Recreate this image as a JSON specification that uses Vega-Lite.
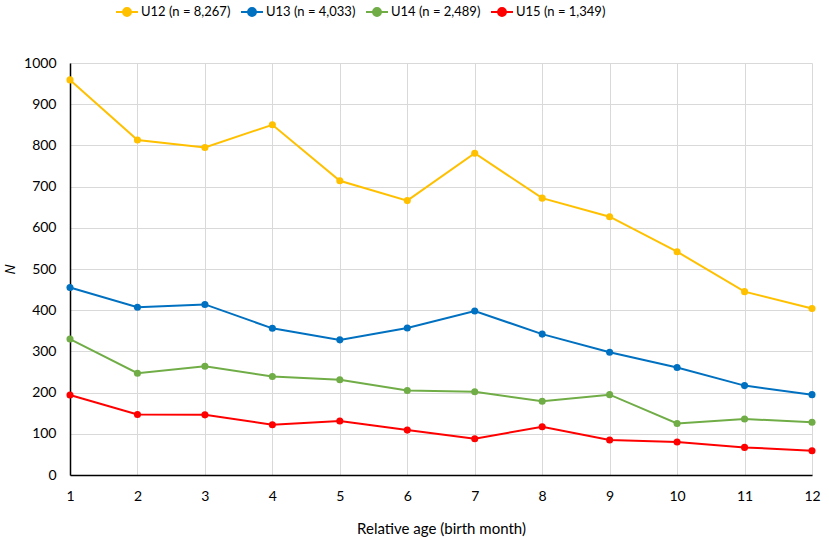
{
  "$schema": "https://vega.github.io/schema/vega-lite/v6.json",
  "width": 742,
  "height": 412,
  "autosize": "none",
  "padding": {"left": 70, "top": 63, "right": 17, "bottom": 65},
  "background": "white",
  "config": {
    "font": "Lato",
    "view": {"stroke": null},
    "axis": {"gridColor": "#D9D9D9", "gridWidth": 1, "domainColor": "#000000", "domainWidth": 1.5, "ticks": false, "labelColor": "#000000", "labelFontSize": 14, "titleFontSize": 15, "titleFontWeight": "normal", "titleColor": "#000000"}
  },
  "data": {
    "values": [
      {"month": 1, "group": "U12 (n = 8,267)", "n": 959},
      {"month": 2, "group": "U12 (n = 8,267)", "n": 813},
      {"month": 3, "group": "U12 (n = 8,267)", "n": 795},
      {"month": 4, "group": "U12 (n = 8,267)", "n": 850},
      {"month": 5, "group": "U12 (n = 8,267)", "n": 714},
      {"month": 6, "group": "U12 (n = 8,267)", "n": 666},
      {"month": 7, "group": "U12 (n = 8,267)", "n": 781},
      {"month": 8, "group": "U12 (n = 8,267)", "n": 672},
      {"month": 9, "group": "U12 (n = 8,267)", "n": 627},
      {"month": 10, "group": "U12 (n = 8,267)", "n": 542},
      {"month": 11, "group": "U12 (n = 8,267)", "n": 445},
      {"month": 12, "group": "U12 (n = 8,267)", "n": 404},
      {"month": 1, "group": "U13 (n = 4,033)", "n": 455},
      {"month": 2, "group": "U13 (n = 4,033)", "n": 407},
      {"month": 3, "group": "U13 (n = 4,033)", "n": 414},
      {"month": 4, "group": "U13 (n = 4,033)", "n": 356},
      {"month": 5, "group": "U13 (n = 4,033)", "n": 328},
      {"month": 6, "group": "U13 (n = 4,033)", "n": 357},
      {"month": 7, "group": "U13 (n = 4,033)", "n": 398},
      {"month": 8, "group": "U13 (n = 4,033)", "n": 342},
      {"month": 9, "group": "U13 (n = 4,033)", "n": 298},
      {"month": 10, "group": "U13 (n = 4,033)", "n": 261},
      {"month": 11, "group": "U13 (n = 4,033)", "n": 217},
      {"month": 12, "group": "U13 (n = 4,033)", "n": 195},
      {"month": 1, "group": "U14 (n = 2,489)", "n": 330},
      {"month": 2, "group": "U14 (n = 2,489)", "n": 247},
      {"month": 3, "group": "U14 (n = 2,489)", "n": 264},
      {"month": 4, "group": "U14 (n = 2,489)", "n": 239},
      {"month": 5, "group": "U14 (n = 2,489)", "n": 231},
      {"month": 6, "group": "U14 (n = 2,489)", "n": 205},
      {"month": 7, "group": "U14 (n = 2,489)", "n": 202},
      {"month": 8, "group": "U14 (n = 2,489)", "n": 179},
      {"month": 9, "group": "U14 (n = 2,489)", "n": 195},
      {"month": 10, "group": "U14 (n = 2,489)", "n": 125},
      {"month": 11, "group": "U14 (n = 2,489)", "n": 136},
      {"month": 12, "group": "U14 (n = 2,489)", "n": 128},
      {"month": 1, "group": "U15 (n = 1,349)", "n": 194},
      {"month": 2, "group": "U15 (n = 1,349)", "n": 147},
      {"month": 3, "group": "U15 (n = 1,349)", "n": 146},
      {"month": 4, "group": "U15 (n = 1,349)", "n": 122},
      {"month": 5, "group": "U15 (n = 1,349)", "n": 131},
      {"month": 6, "group": "U15 (n = 1,349)", "n": 109},
      {"month": 7, "group": "U15 (n = 1,349)", "n": 88},
      {"month": 8, "group": "U15 (n = 1,349)", "n": 117},
      {"month": 9, "group": "U15 (n = 1,349)", "n": 85},
      {"month": 10, "group": "U15 (n = 1,349)", "n": 80},
      {"month": 11, "group": "U15 (n = 1,349)", "n": 67},
      {"month": 12, "group": "U15 (n = 1,349)", "n": 59}
    ]
  },
  "mark": {"type": "line", "strokeWidth": 2, "point": {"filled": true, "size": 50, "opacity": 1}},
  "encoding": {
    "x": {
      "field": "month", "type": "quantitative",
      "scale": {"domain": [1, 12], "nice": false, "zero": false},
      "axis": {"values": [1,2,3,4,5,6,7,8,9,10,11,12], "title": "Relative age (birth month)", "labelPadding": 14, "titlePadding": 18, "labelFlush": false}
    },
    "y": {
      "field": "n", "type": "quantitative",
      "scale": {"domain": [0, 1000], "nice": false},
      "axis": {"values": [0,100,200,300,400,500,600,700,800,900,1000], "format": "d", "title": "N", "titleFont": "Open Sans", "titleFontStyle": "italic", "titleFontSize": 14, "labelPadding": 14, "titlePadding": 6}
    },
    "color": {
      "field": "group", "type": "nominal",
      "scale": {"domain": ["U12 (n = 8,267)", "U13 (n = 4,033)", "U14 (n = 2,489)", "U15 (n = 1,349)"], "range": ["#FFC000", "#0070C0", "#70AD47", "#FF0000"]},
      "legend": {
        "title": null, "orient": "none", "direction": "horizontal",
        "legendX": 45, "legendY": -63,
        "symbolType": "M -1 0 L 1 0 M 0.36 0 A 0.36 0.36 0 1 1 -0.36 0 A 0.36 0.36 0 1 1 0.36 0 Z",
        "symbolSize": 484, "symbolStrokeWidth": 2, "symbolOpacity": 1,
        "labelFontSize": 13, "labelColor": "#000000", "labelOffset": 2, "columnPadding": 6,
        "encode": {"symbols": {"update": {"fill": {"scale": "color", "field": "value"}, "fillOpacity": {"value": 1}}}}
      }
    }
  }
}
